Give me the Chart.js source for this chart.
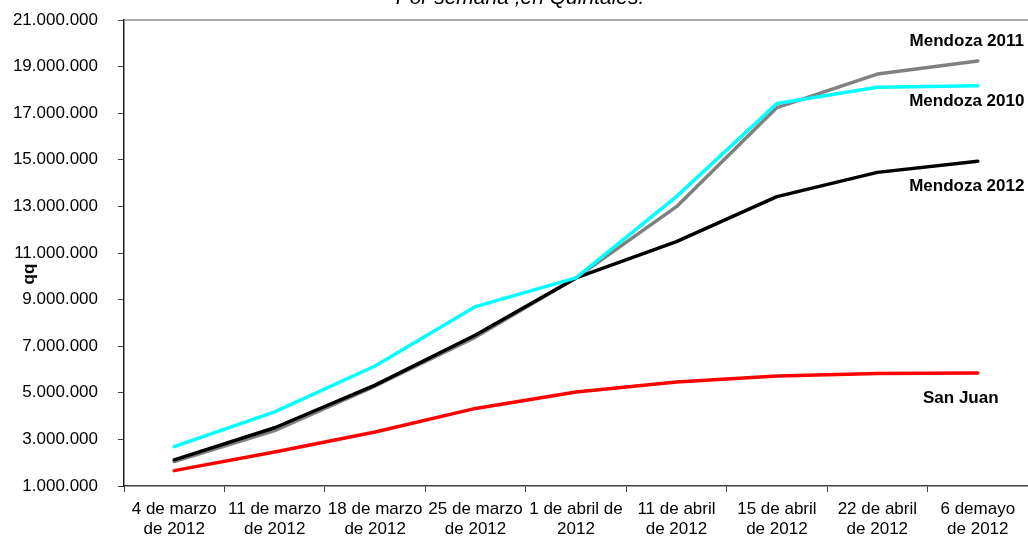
<!DOCTYPE html>
<html>
<head>
<meta charset="utf-8">
<script src="https://cdn.jsdelivr.net/npm/chart.js@4.4.1/dist/chart.umd.min.js"></script>
<style>
  html, body { margin: 0; padding: 0; background: #fff; }
  .chart-container { width: 1028px; height: 543px; position: relative; }
</style>
</head>
<body>
<div class="chart-container">
    <canvas id="cosechaChart"></canvas>
</div>

<script>
// Weekly dates (two-line labels)
const categories = [
    ['4 de marzo', 'de 2012'],
    ['11 de marzo', 'de 2012'],
    ['18 de marzo', 'de 2012'],
    ['25 de marzo', 'de 2012'],
    ['1 de abril de', '2012'],
    ['11 de abril', 'de 2012'],
    ['15 de abril', 'de 2012'],
    ['22 de abril', 'de 2012'],
    ['6 demayo', 'de 2012']
];

// Values in quintales (qq)
const mendoza2010 = [2690000, 4180000, 6150000, 8700000, 9930000, 13420000, 17420000, 18110000, 18180000];
const mendoza2011 = [2050000, 3380000, 5290000, 7390000, 9930000, 12990000, 17240000, 18680000, 19240000];
const mendoza2012 = [2120000, 3500000, 5330000, 7480000, 9930000, 11490000, 13420000, 14460000, 14940000];
const sanJuan     = [1660000, 2460000, 3320000, 4330000, 5030000, 5460000, 5720000, 5830000, 5850000];

const yMin = 1000000;
const yMax = 21000000;
const yStep = 2000000;

const FONT = '"Liberation Sans", Arial, sans-serif';

function formatDots(v) {
    return String(v).replace(/\B(?=(\d{3})+(?!\d))/g, '.');
}

// draws the series names next to the line ends, the cut title, the "qq" axis name and the top border
const extrasPlugin = {
    id: 'extras',
    afterDatasetsDraw(chart) {
        const ctx = chart.ctx;
        const area = chart.chartArea;
        ctx.save();

        // top border of the plot area
        ctx.strokeStyle = '#8c8c8c';
        ctx.lineWidth = 1.5;
        ctx.beginPath();
        ctx.moveTo(area.left, area.top);
        ctx.lineTo(chart.width, area.top);
        ctx.stroke();

        // end labels
        ctx.fillStyle = '#000';
        ctx.font = 'bold 17px ' + FONT;
        ctx.textAlign = 'center';
        ctx.textBaseline = 'middle';
        chart.data.datasets.forEach((ds, i) => {
            const meta = chart.getDatasetMeta(i);
            const last = meta.data[meta.data.length - 1];
            ctx.fillText(ds.label, last.x + ds.endLabel.dx, last.y + ds.endLabel.dy);
        });

        // title (cut off at the top in the original)
        ctx.font = 'italic 21px ' + FONT;
        ctx.textBaseline = 'alphabetic';
        ctx.fillText('Por semana ,en Quintales.', 520, 4);

        // y axis name
        ctx.translate(29, 274);
        ctx.rotate(-Math.PI / 2);
        ctx.font = 'bold 17px ' + FONT;
        ctx.textBaseline = 'middle';
        ctx.fillText('qq', 0, 0);
        ctx.restore();
    }
};

const ctx = document.getElementById('cosechaChart').getContext('2d');
new Chart(ctx, {
    type: 'line',
    data: {
        labels: categories,
        datasets: [
            {
                label: 'Mendoza 2010',
                data: mendoza2010,
                borderColor: '#00ffff',
                order: 1,
                endLabel: { dx: -11, dy: 16 }
            },
            {
                label: 'Mendoza 2012',
                data: mendoza2012,
                borderColor: '#000000',
                order: 2,
                endLabel: { dx: -11, dy: 25 }
            },
            {
                label: 'Mendoza 2011',
                data: mendoza2011,
                borderColor: '#808080',
                order: 3,
                endLabel: { dx: -11, dy: -20 }
            },
            {
                label: 'San Juan',
                data: sanJuan,
                borderColor: '#ff0000',
                order: 4,
                endLabel: { dx: -17, dy: 25 }
            }
        ]
    },
    options: {
        responsive: true,
        maintainAspectRatio: false,
        devicePixelRatio: 1,
        animation: false,
        layout: {
            padding: { top: 20, left: 0, right: 0, bottom: 0 }
        },
        elements: {
            line: {
                borderWidth: 3.5,
                tension: 0,
                fill: false,
                borderJoinStyle: 'round',
                borderCapStyle: 'round'
            },
            point: {
                radius: 0,
                hoverRadius: 0
            }
        },
        scales: {
            x: {
                offset: true,
                grid: {
                    offset: true,
                    drawOnChartArea: false,
                    drawTicks: true,
                    tickLength: 6,
                    color: '#404040'
                },
                border: {
                    color: '#404040',
                    width: 1.5
                },
                ticks: {
                    color: '#000',
                    maxRotation: 0,
                    minRotation: 0,
                    autoSkip: false,
                    padding: 7,
                    font: { family: FONT, size: 17, lineHeight: 1.2 }
                },
                afterFit: function(scale) {
                    scale.height = 57;
                }
            },
            y: {
                min: yMin,
                max: yMax,
                grid: {
                    drawOnChartArea: false,
                    drawTicks: true,
                    tickLength: 6,
                    color: '#404040'
                },
                border: {
                    color: '#202020',
                    width: 1.5
                },
                ticks: {
                    stepSize: yStep,
                    color: '#000',
                    padding: 20,
                    font: { family: FONT, size: 17 },
                    callback: function(value) {
                        return formatDots(value);
                    }
                },
                afterFit: function(scale) {
                    scale.width = 124;
                    // tick padding should not push the plot down
                    scale.paddingTop = 0;
                    scale.paddingBottom = 0;
                }
            }
        },
        plugins: {
            legend: { display: false },
            title: { display: false },
            tooltip: { enabled: false }
        }
    },
    plugins: [extrasPlugin]
});
</script>
</body>
</html>
